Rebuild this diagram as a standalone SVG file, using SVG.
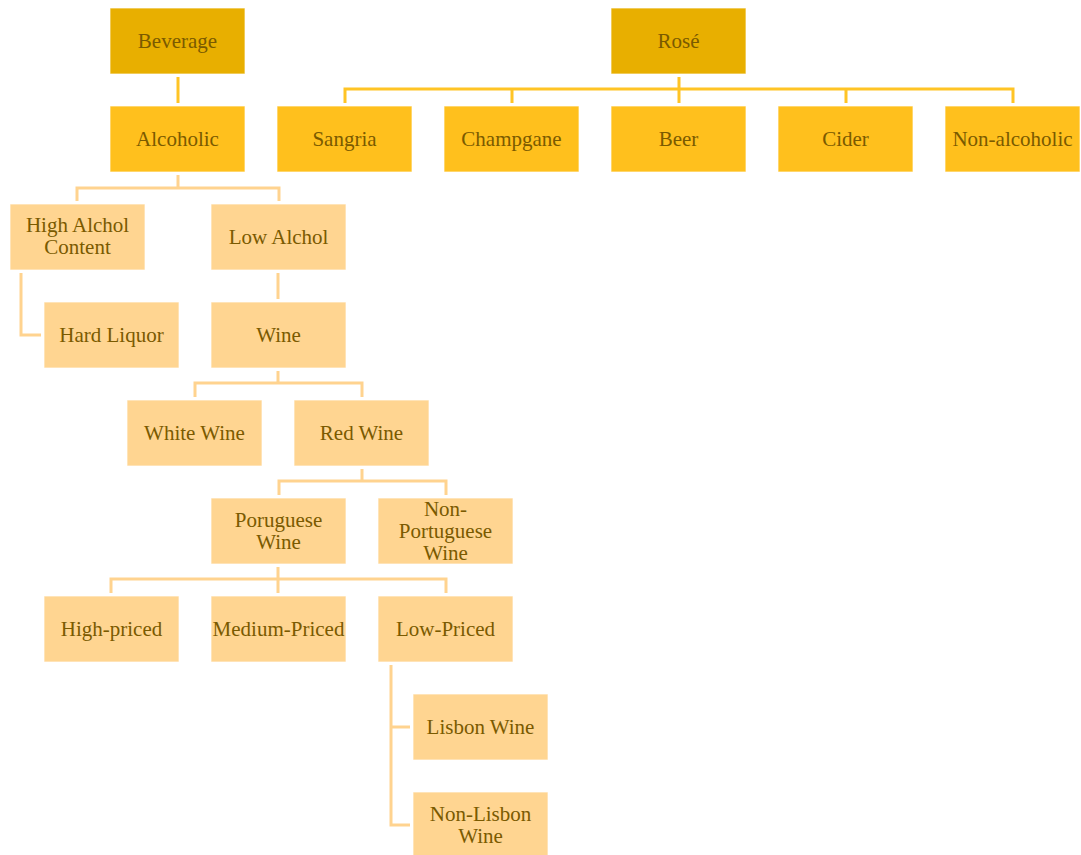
<svg xmlns="http://www.w3.org/2000/svg" width="1081" height="855" viewBox="0 0 1081 855">
  <style>
    .box rect { stroke: #ffffff; stroke-opacity: 0.7; stroke-width: 1; }
    .root rect { fill: #E8AF00; }
    .mid rect { fill: #FFC01D; }
    .leaf rect { fill: #FFD591; }
    text { font-family: 'Liberation Serif', 'DejaVu Serif', serif; font-size: 21px; fill: #7A5A00; text-anchor: middle; }
    .c-top { fill: none; stroke: #FFC425; stroke-width: 3; }
    .c-low { fill: none; stroke: #FFD38F; stroke-width: 3; }
  </style>

  <!-- connectors -->
  <g id="connectors">
    <path class="c-top" d="M178 77 V103"/>
    <path class="c-top" d="M679 77 V103 M345 103 V89 H1013 V103 M512 89 V103 M846 89 V103"/>
    <path class="c-low" d="M178 175 V188 M77 201 V188 H279 V201"/>
    <path class="c-low" d="M21 273 V335 H41"/>
    <path class="c-low" d="M278 273 V299"/>
    <path class="c-low" d="M278 371 V383 M195 397 V383 H362 V397"/>
    <path class="c-low" d="M362 469 V481 M279 495 V481 H446 V495"/>
    <path class="c-low" d="M278 567 V579 M111 593 V579 H446 V593 M278 579 V593"/>
    <path class="c-low" d="M391 665 V825 H410 M391 727 H410"/>
  </g>

  <!-- top level -->
  <g id="beverage" class="box root"><rect x="110" y="8" width="135" height="66"/><text x="177.5" y="48">Beverage</text></g>
  <g id="rose" class="box root"><rect x="611" y="8" width="135" height="66"/><text x="678.5" y="48">Rosé</text></g>

  <!-- second level -->
  <g id="alcoholic" class="box mid"><rect x="110" y="106" width="135" height="66"/><text x="177.5" y="146">Alcoholic</text></g>
  <g id="sangria" class="box mid"><rect x="277" y="106" width="135" height="66"/><text x="344.5" y="146">Sangria</text></g>
  <g id="champgane" class="box mid"><rect x="444" y="106" width="135" height="66"/><text x="511.5" y="146">Champgane</text></g>
  <g id="beer" class="box mid"><rect x="611" y="106" width="135" height="66"/><text x="678.5" y="146">Beer</text></g>
  <g id="cider" class="box mid"><rect x="778" y="106" width="135" height="66"/><text x="845.5" y="146">Cider</text></g>
  <g id="non-alcoholic" class="box mid"><rect x="945" y="106" width="135" height="66"/><text x="1012.5" y="146">Non-alcoholic</text></g>

  <!-- alcoholic branch -->
  <g id="high-alcohol" class="box leaf"><rect x="10" y="204" width="135" height="66"/><text x="77.5" y="232">High Alchol</text><text x="77.5" y="254">Content</text></g>
  <g id="low-alcohol" class="box leaf"><rect x="211" y="204" width="135" height="66"/><text x="278.5" y="244">Low Alchol</text></g>
  <g id="hard-liquor" class="box leaf"><rect x="44" y="302" width="135" height="66"/><text x="111.5" y="342">Hard Liquor</text></g>
  <g id="wine" class="box leaf"><rect x="211" y="302" width="135" height="66"/><text x="278.5" y="342">Wine</text></g>
  <g id="white-wine" class="box leaf"><rect x="127" y="400" width="135" height="66"/><text x="194.5" y="440">White Wine</text></g>
  <g id="red-wine" class="box leaf"><rect x="294" y="400" width="135" height="66"/><text x="361.5" y="440">Red Wine</text></g>
  <g id="portuguese" class="box leaf"><rect x="211" y="498" width="135" height="66"/><text x="278.5" y="527">Poruguese</text><text x="278.5" y="549">Wine</text></g>
  <g id="non-portuguese" class="box leaf"><rect x="378" y="498" width="135" height="66"/><text x="445.5" y="516">Non-</text><text x="445.5" y="538">Portuguese</text><text x="445.5" y="560">Wine</text></g>
  <g id="high-priced" class="box leaf"><rect x="44" y="596" width="135" height="66"/><text x="111.5" y="636">High-priced</text></g>
  <g id="medium-priced" class="box leaf"><rect x="211" y="596" width="135" height="66"/><text x="278.5" y="636">Medium-Priced</text></g>
  <g id="low-priced" class="box leaf"><rect x="378" y="596" width="135" height="66"/><text x="445.5" y="636">Low-Priced</text></g>
  <g id="lisbon" class="box leaf"><rect x="413" y="694" width="135" height="66"/><text x="480.5" y="734">Lisbon Wine</text></g>
  <g id="non-lisbon" class="box leaf"><rect x="413" y="792" width="135" height="66"/><text x="480.5" y="821">Non-Lisbon</text><text x="480.5" y="843">Wine</text></g>
</svg>
